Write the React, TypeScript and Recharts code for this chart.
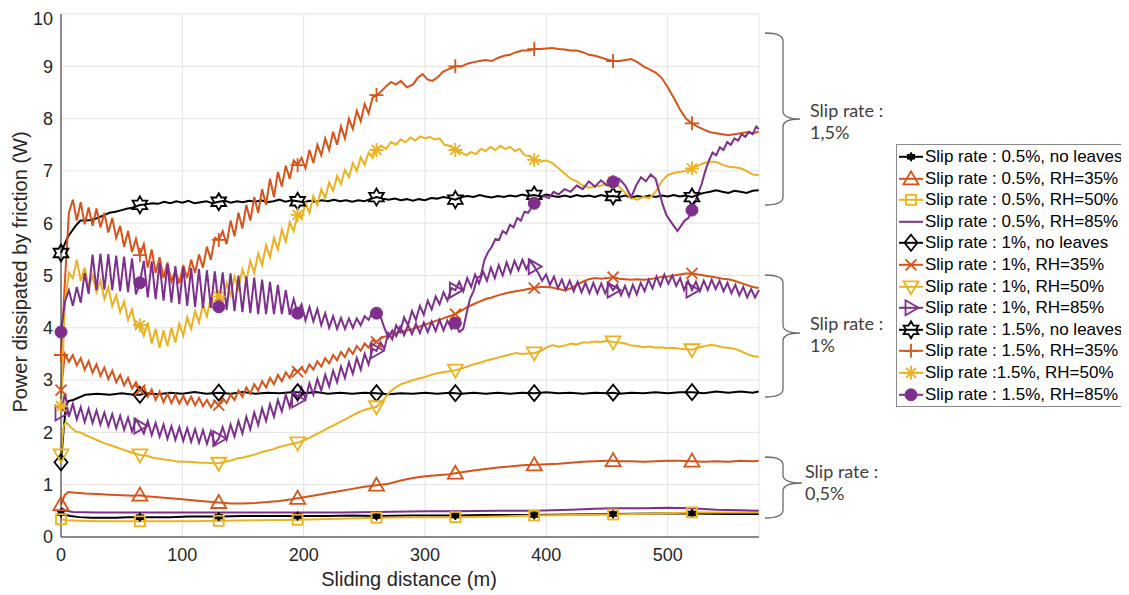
import React from 'react';
import { LineChart, Line, XAxis, YAxis, CartesianGrid } from 'recharts';

// ---------- axis / category data ----------
const STEP = 3.25; // sampling step (m) of the densely read segments
const MARKER_X = [0, 65, 130, 195, 260, 325, 390, 455, 520];
const X_TICKS = [0, 100, 200, 300, 400, 500];
const Y_TICKS = [0, 1, 2, 3, 4, 5, 6, 7, 8, 9, 10];
const X_MAX = 575.25;

const COLORS = { black: '#000000', orange: '#D95319', yellow: '#EDB120', purple: '#7E2F8E' };

// ---------- series values ----------
// Slip 0.5 %
const B05 = [[0,0.46],[4,0.42],[8,0.4],[15,0.38],[25,0.37],[35,0.37],[45,0.37],[55,0.38],[65,0.38],[75,0.38],[90,0.38],[105,0.39],[120,0.39],[130,0.39],[150,0.4],[170,0.4],[195,0.4],[220,0.4],[240,0.41],[260,0.4],[290,0.41],[325,0.41],[350,0.42],[390,0.42],[420,0.43],[455,0.44],[490,0.45],[520,0.45],[550,0.44],[575,0.44]];
const O05 = [[0,0.62],[3,0.8],[6,0.86],[10,0.85],[15,0.84],[20,0.83],[30,0.82],[40,0.81],[50,0.8],[60,0.79],[65,0.8],[70,0.78],[80,0.76],[90,0.74],[100,0.72],[110,0.7],[120,0.68],[130,0.66],[140,0.64],[150,0.64],[160,0.65],[170,0.67],[180,0.69],[190,0.72],[195,0.74],[200,0.76],[210,0.8],[220,0.84],[230,0.88],[240,0.92],[250,0.96],[260,0.99],[270,1.02],[280,1.08],[290,1.13],[300,1.16],[310,1.18],[320,1.2],[325,1.22],[330,1.24],[340,1.27],[350,1.3],[360,1.33],[370,1.35],[380,1.37],[390,1.38],[400,1.39],[410,1.4],[420,1.42],[430,1.44],[440,1.45],[450,1.46],[455,1.46],[460,1.45],[470,1.45],[480,1.44],[490,1.45],[500,1.46],[510,1.46],[520,1.45],[530,1.44],[540,1.45],[550,1.44],[560,1.46],[570,1.45],[575,1.46]];
const Y05 = [[0,0.34],[5,0.32],[15,0.31],[30,0.3],[50,0.3],[65,0.3],[90,0.3],[110,0.3],[130,0.31],[160,0.32],[195,0.33],[230,0.35],[260,0.37],[290,0.38],[325,0.38],[360,0.39],[390,0.41],[420,0.42],[455,0.43],[490,0.45],[520,0.47],[550,0.47],[575,0.47]];
const P05 = [[0,0.56],[4,0.5],[10,0.48],[30,0.47],[65,0.47],[100,0.47],[130,0.47],[160,0.47],[195,0.47],[230,0.47],[260,0.48],[300,0.49],[325,0.49],[360,0.5],[390,0.5],[420,0.52],[440,0.54],[455,0.55],[480,0.55],[500,0.56],[520,0.55],[540,0.52],[560,0.51],[575,0.5]];

// Slip 1 %
const B10 = [[0,1.43],[2,2.0],[4,2.5],[6,2.6],[10,2.62],[20,2.72],[30,2.74],[40,2.72],[50,2.75],[60,2.72],[65,2.72],[70,2.75],[80,2.73],[90,2.76],[100,2.74],[110,2.77],[120,2.74],[130,2.76],[140,2.74],[150,2.77],[160,2.74],[170,2.76],[180,2.75],[190,2.77],[195,2.77],[200,2.75],[210,2.77],[220,2.74],[230,2.76],[240,2.74],[250,2.76],[260,2.75],[270,2.73],[280,2.75],[290,2.74],[300,2.76],[310,2.74],[320,2.76],[325,2.75],[330,2.74],[340,2.76],[350,2.74],[360,2.76],[370,2.74],[380,2.76],[390,2.75],[400,2.77],[410,2.75],[420,2.76],[430,2.74],[440,2.76],[450,2.75],[455,2.76],[460,2.74],[470,2.76],[480,2.75],[490,2.77],[500,2.75],[510,2.77],[520,2.77],[530,2.75],[540,2.78],[550,2.76],[560,2.78],[570,2.76],[575,2.78]];
const O10_GRID = [2.81,3.5,3.35,3.48,3.28,3.42,3.2,3.36,3.14,3.3,3.08,3.24,3.02,3.18,2.96,3.1,2.9,3.04,2.84,2.96,2.81,2.88,2.68,2.82,2.62,2.78,2.58,2.74,2.56,2.72,2.55,2.7,2.54,2.68,2.52,2.66,2.5,2.62,2.48,2.6,2.52,2.66,2.56,2.72,2.62,2.8,2.68,2.86,2.74,2.92,2.8,2.98,2.86,3.04,2.92,3.1,2.98,3.15,3.04,3.2,3.16,3.24,3.14,3.3,3.2,3.36,3.26,3.42,3.32,3.48,3.38,3.54,3.44,3.6,3.5,3.65,3.56,3.7,3.62,3.76,3.73];
const O10_TAIL = [[265,3.82],[270,3.85],[275,3.9],[280,3.92],[285,3.95],[290,3.98],[295,4.02],[300,4.06],[305,4.1],[310,4.14],[315,4.18],[320,4.22],[325,4.26],[330,4.33],[335,4.4],[340,4.45],[345,4.5],[350,4.55],[355,4.58],[360,4.62],[365,4.65],[370,4.68],[375,4.7],[380,4.72],[385,4.74],[390,4.76],[395,4.78],[400,4.78],[405,4.77],[410,4.74],[415,4.72],[420,4.75],[425,4.82],[430,4.88],[435,4.93],[440,4.95],[445,4.94],[450,4.95],[455,4.97],[460,4.94],[465,4.93],[470,4.92],[475,4.93],[480,4.92],[485,4.93],[490,4.95],[495,4.97],[500,4.98],[505,5.0],[510,5.02],[515,5.04],[520,5.04],[525,5.02],[530,5.0],[535,4.98],[540,4.96],[545,4.94],[550,4.93],[555,4.9],[560,4.86],[565,4.82],[570,4.78],[575,4.76]];
const Y10 = [[0,1.57],[2,2.1],[4,2.2],[8,2.1],[12,2.02],[16,2.0],[20,1.95],[25,1.9],[30,1.85],[35,1.8],[40,1.76],[45,1.72],[50,1.68],[55,1.64],[60,1.6],[65,1.57],[70,1.56],[75,1.52],[80,1.5],[85,1.48],[90,1.47],[95,1.45],[100,1.44],[105,1.44],[110,1.43],[115,1.42],[120,1.42],[125,1.41],[130,1.41],[135,1.44],[140,1.46],[145,1.5],[150,1.52],[155,1.55],[160,1.58],[165,1.62],[170,1.65],[175,1.68],[180,1.72],[185,1.75],[190,1.78],[195,1.8],[200,1.85],[205,1.9],[210,1.96],[215,2.02],[220,2.08],[225,2.14],[230,2.2],[235,2.26],[240,2.32],[245,2.38],[250,2.43],[255,2.46],[260,2.49],[265,2.6],[270,2.75],[275,2.85],[280,2.92],[285,2.96],[290,3.0],[295,3.03],[300,3.06],[305,3.1],[310,3.13],[315,3.15],[320,3.17],[325,3.19],[330,3.22],[335,3.26],[340,3.3],[345,3.33],[350,3.37],[355,3.4],[360,3.43],[365,3.46],[370,3.49],[375,3.52],[380,3.5],[385,3.51],[390,3.52],[395,3.55],[400,3.62],[405,3.67],[410,3.64],[415,3.66],[420,3.7],[425,3.68],[430,3.72],[435,3.72],[440,3.74],[445,3.73],[450,3.75],[455,3.73],[460,3.72],[465,3.7],[470,3.66],[475,3.65],[480,3.63],[485,3.64],[490,3.62],[495,3.63],[500,3.61],[505,3.62],[510,3.6],[515,3.59],[520,3.58],[525,3.62],[530,3.65],[535,3.67],[540,3.66],[545,3.63],[550,3.62],[555,3.6],[560,3.56],[565,3.5],[570,3.46],[575,3.44]];
const P10_GRID = [2.37,2.75,2.3,2.55,2.25,2.48,2.2,2.45,2.18,2.42,2.15,2.38,2.12,2.35,2.08,2.32,2.05,2.28,2.02,2.25,2.12,1.98,2.22,1.95,2.18,1.92,2.15,1.88,2.12,1.86,2.1,1.84,2.08,1.82,2.06,1.8,2.04,1.78,2.02,1.78,1.88,2.1,1.86,2.15,1.92,2.22,1.98,2.3,2.06,2.38,2.14,2.46,2.22,2.54,2.3,2.62,2.4,2.72,2.48,2.8,2.62,2.86,2.64,2.94,2.72,3.02,2.8,3.1,2.88,3.18,2.96,3.26,3.04,3.34,3.12,3.42,3.2,3.5,3.3,3.6,3.56,3.72,3.6,3.9,3.78,4.05,3.92,4.2,4.05,4.32,4.15,4.42,4.25,4.52,4.35,4.6,4.45,4.68,4.52,4.76,4.72,4.88,4.7,4.95,4.78,5.02,4.85,5.08,4.9,5.15,4.95,5.2,5.0,5.25,5.05,5.28,5.1,5.3,5.12,5.28,5.17,5.05,4.9,5.02,4.82,4.98,4.76,4.92,4.72,4.9,4.7,4.88,4.68,4.86,4.66,4.86,4.66,4.85,4.66,4.84,4.72,4.82,4.62,4.8,4.6,4.82,4.64,4.86,4.7,4.92,4.75,4.98,4.8,5.02,4.84,5.0,4.8,4.95,4.72,4.9,4.72,4.88,4.7,4.9,4.72,4.92,4.74,4.9,4.7,4.86,4.66,4.82,4.62,4.78,4.58,4.74,4.58,4.72];

// Slip 1.5 %
const B15 = [[0,5.43],[3,5.6],[6,5.75],[9,5.85],[12,5.95],[16,6.05],[20,6.05],[25,6.06],[30,6.1],[35,6.15],[40,6.2],[45,6.22],[50,6.25],[55,6.28],[60,6.3],[65,6.35],[70,6.36],[75,6.38],[80,6.37],[85,6.41],[90,6.38],[95,6.42],[100,6.39],[105,6.43],[110,6.38],[115,6.4],[120,6.42],[125,6.38],[130,6.41],[135,6.43],[140,6.39],[145,6.42],[150,6.4],[155,6.43],[160,6.41],[165,6.44],[170,6.4],[175,6.42],[180,6.45],[185,6.41],[190,6.44],[195,6.42],[200,6.4],[205,6.43],[210,6.41],[215,6.44],[220,6.42],[225,6.45],[230,6.42],[235,6.44],[240,6.41],[245,6.44],[250,6.42],[255,6.46],[260,6.5],[265,6.47],[270,6.45],[275,6.47],[280,6.44],[285,6.46],[290,6.43],[295,6.46],[300,6.44],[305,6.48],[310,6.47],[315,6.5],[320,6.48],[325,6.45],[330,6.5],[335,6.52],[340,6.5],[345,6.54],[350,6.51],[355,6.49],[360,6.52],[365,6.5],[370,6.53],[375,6.51],[380,6.55],[385,6.52],[390,6.54],[395,6.51],[400,6.55],[405,6.52],[410,6.5],[415,6.53],[420,6.5],[425,6.54],[430,6.51],[435,6.53],[440,6.5],[445,6.54],[450,6.51],[455,6.52],[460,6.5],[465,6.53],[470,6.49],[475,6.52],[480,6.5],[485,6.53],[490,6.5],[495,6.53],[500,6.51],[505,6.54],[510,6.51],[515,6.53],[520,6.5],[525,6.55],[530,6.58],[535,6.6],[540,6.63],[545,6.6],[550,6.58],[555,6.62],[560,6.6],[565,6.58],[570,6.62],[575,6.63]];
const O15_GRID = [3.48,4.9,6.2,6.45,6.05,6.4,5.98,6.3,5.95,6.28,5.92,6.2,5.82,6.1,5.72,5.95,5.55,5.85,5.45,5.7,5.39,5.6,5.15,5.5,5.05,5.35,4.95,5.25,4.88,5.1,4.85,5.2,4.95,5.3,5.05,5.4,5.15,5.55,5.3,5.72,5.68,5.85,5.6,6.05,5.75,6.2,5.9,6.35,6.05,6.5,6.2,6.65,6.35,6.85,6.5,6.98,6.7,7.1,6.85,7.2,7.11,7.25,7.05,7.4,7.15,7.5,7.3,7.62,7.4,7.75,7.5,7.85,7.62,8.0,7.8,8.15,7.95,8.28,8.1,8.4,8.45];
const O15_TAIL = [[263,8.5],[268,8.62],[272,8.7],[276,8.65],[280,8.72],[285,8.6],[290,8.65],[294,8.78],[298,8.85],[302,8.75],[306,8.72],[310,8.78],[315,8.9],[320,8.95],[325,9.0],[330,9.0],[335,9.05],[340,9.08],[345,9.1],[350,9.12],[355,9.1],[360,9.16],[365,9.2],[370,9.22],[375,9.27],[380,9.3],[385,9.3],[390,9.33],[395,9.33],[400,9.34],[405,9.35],[410,9.33],[415,9.32],[420,9.3],[425,9.3],[430,9.27],[435,9.22],[440,9.2],[445,9.17],[450,9.13],[455,9.1],[460,9.1],[465,9.12],[470,9.14],[475,9.08],[480,9.0],[485,8.94],[490,8.88],[495,8.78],[500,8.6],[505,8.4],[510,8.18],[515,8.0],[520,7.91],[525,7.84],[530,7.79],[535,7.74],[540,7.72],[545,7.7],[550,7.68],[555,7.7],[560,7.72],[565,7.74],[570,7.72],[575,7.75]];
const Y15_GRID = [2.5,4.5,5.05,4.95,5.3,4.9,5.15,4.78,5.0,4.68,4.9,4.55,4.78,4.42,4.62,4.3,4.5,4.15,4.35,4.0,4.05,3.85,4.1,3.7,3.98,3.62,3.95,3.65,4.0,3.72,4.08,3.85,4.2,3.98,4.32,4.1,4.45,4.22,4.58,4.38,4.6,4.5,4.85,4.62,4.98,4.75,5.12,4.9,5.28,5.05,5.42,5.2,5.58,5.35,5.72,5.5,5.88,5.65,6.02,5.85,6.16,6.1,6.38,6.2,6.52,6.35,6.65,6.48,6.78,6.62,6.9,6.75,7.02,6.88,7.15,7.0,7.26,7.12,7.35,7.25,7.4];
const Y15_TAIL = [[264,7.48],[268,7.42],[272,7.55],[276,7.5],[280,7.6],[284,7.55],[288,7.64],[292,7.58],[296,7.66],[300,7.62],[304,7.65],[308,7.6],[312,7.62],[316,7.5],[320,7.48],[325,7.4],[330,7.35],[334,7.3],[338,7.36],[342,7.32],[346,7.42],[350,7.38],[354,7.46],[358,7.4],[362,7.48],[366,7.42],[370,7.46],[374,7.38],[378,7.42],[382,7.3],[386,7.28],[390,7.21],[395,7.18],[400,7.2],[405,7.15],[410,7.05],[415,6.95],[420,6.85],[425,6.8],[430,6.72],[435,6.68],[440,6.7],[445,6.72],[450,6.75],[455,6.79],[460,6.7],[465,6.58],[470,6.48],[475,6.45],[480,6.5],[485,6.48],[490,6.6],[495,6.8],[500,6.92],[505,6.96],[510,6.98],[515,7.0],[520,7.05],[525,7.1],[530,7.15],[535,7.18],[540,7.17],[545,7.12],[550,7.08],[555,7.07],[560,7.05],[565,7.0],[570,6.93],[575,6.92]];
const P15_GRID = [3.92,4.5,4.72,4.42,4.78,4.48,5.05,4.65,5.4,4.72,5.42,4.73,5.41,4.72,5.38,4.7,5.36,4.68,5.33,4.64,4.86,5.28,4.58,5.27,4.55,5.24,4.52,5.22,4.48,5.18,4.45,5.16,4.42,5.14,4.4,5.12,4.38,5.1,4.38,5.08,4.4,5.06,4.34,5.04,4.32,5.0,4.3,4.98,4.28,4.96,4.26,4.92,4.26,4.88,4.26,4.82,4.26,4.72,4.25,4.55,4.28,4.45,4.14,4.4,4.12,4.36,4.05,4.28,4.0,4.22,3.98,4.19,3.98,4.18,4.0,4.18,4.05,4.22,4.15,4.3,4.28,4.22,4.0,3.82,3.95,3.84,4.02,3.86,4.05,3.88,4.08,3.9,4.1,3.92,4.12,3.94,4.15,3.95,4.14,3.98,4.09];
const P15_TAIL = [[328.25,3.92],[331.5,3.98],[334,4.25],[337,4.55],[340,4.7],[343,4.95],[346,5.0],[349,5.3],[352,5.45],[355,5.55],[358,5.7],[361,5.68],[364,5.85],[367,5.8],[370,5.97],[373,5.92],[376,6.1],[379,6.05],[382,6.22],[385,6.2],[390,6.38],[394,6.45],[398,6.52],[402,6.48],[406,6.6],[410,6.55],[415,6.65],[420,6.6],[425,6.72],[430,6.65],[435,6.8],[440,6.7],[445,6.82],[450,6.72],[455,6.79],[460,6.85],[465,6.72],[470,6.5],[474,6.72],[478,6.88],[482,6.8],[486,6.93],[490,6.85],[493,6.6],[496,6.35],[499,6.15],[502,6.05],[505,5.95],[508,5.85],[511,5.95],[514,6.05],[517,6.1],[520,6.25],[524,6.5],[528,6.75],[531,7.0],[534,7.2],[537,7.35],[540,7.3],[543,7.45],[546,7.4],[549,7.55],[552,7.5],[555,7.62],[558,7.58],[561,7.7],[564,7.65],[567,7.75],[570,7.7],[573,7.85],[575,7.8]];

// ---------- helpers ----------
type Pt = { x: number; y: number };
const fromPairs = (p: number[][]): Pt[] => p.map(([x, y]) => ({ x, y }));
const fromGrid = (v: number[]): Pt[] => v.map((y, i) => ({ x: i * STEP, y }));

const SERIES = [
  { name: 'Slip rate : 0.5%, no leaves', color: COLORS.black, shape: 'hexSmall', data: fromPairs(B05) },
  { name: 'Slip rate : 0.5%, RH=35%', color: COLORS.orange, shape: 'triUp', data: fromPairs(O05) },
  { name: 'Slip rate : 0.5%, RH=50%', color: COLORS.yellow, shape: 'square', data: fromPairs(Y05) },
  { name: 'Slip rate : 0.5%, RH=85%', color: COLORS.purple, shape: 'none', data: fromPairs(P05) },
  { name: 'Slip rate : 1%, no leaves', color: COLORS.black, shape: 'diamond', data: fromPairs(B10) },
  { name: 'Slip rate : 1%, RH=35%', color: COLORS.orange, shape: 'x', data: fromGrid(O10_GRID).concat(fromPairs(O10_TAIL)) },
  { name: 'Slip rate : 1%, RH=50%', color: COLORS.yellow, shape: 'triDown', data: fromPairs(Y10) },
  { name: 'Slip rate : 1%, RH=85%', color: COLORS.purple, shape: 'triRight', data: fromGrid(P10_GRID) },
  { name: 'Slip rate : 1.5%, no leaves', color: COLORS.black, shape: 'hexagram', data: fromPairs(B15) },
  { name: 'Slip rate : 1.5%, RH=35%', color: COLORS.orange, shape: 'plus', data: fromGrid(O15_GRID).concat(fromPairs(O15_TAIL)) },
  { name: 'Slip rate :1.5%, RH=50%', color: COLORS.yellow, shape: 'asterisk', data: fromGrid(Y15_GRID).concat(fromPairs(Y15_TAIL)) },
  { name: 'Slip rate : 1.5%, RH=85%', color: COLORS.purple, shape: 'circle', data: fromGrid(P15_GRID).concat(fromPairs(P15_TAIL)) },
];

const starPoints = (cx: number, cy: number, r: number) => {
  const pts: string[] = [];
  for (let k = 0; k < 12; k++) {
    const a = (-90 + k * 30) * Math.PI / 180;
    const rr = k % 2 === 0 ? r : r / Math.sqrt(3);
    pts.push(`${cx + rr * Math.cos(a)},${cy + rr * Math.sin(a)}`);
  }
  return pts.join(' ');
};

function Marker({ shape, cx, cy, color }: { shape: string; cx: number; cy: number; color: string }) {
  const sw = 1.8;
  switch (shape) {
    case 'triUp':
      return <polygon points={`${cx},${cy - 7.5} ${cx - 7.5},${cy + 5.5} ${cx + 7.5},${cy + 5.5}`} fill="none" stroke={color} strokeWidth={sw} />;
    case 'triDown':
      return <polygon points={`${cx},${cy + 7.5} ${cx - 7.5},${cy - 5.5} ${cx + 7.5},${cy - 5.5}`} fill="none" stroke={color} strokeWidth={sw} />;
    case 'triRight':
      return <polygon points={`${cx + 7.5},${cy} ${cx - 5.5},${cy - 7.5} ${cx - 5.5},${cy + 7.5}`} fill="none" stroke={color} strokeWidth={sw} />;
    case 'square':
      return <rect x={cx - 5} y={cy - 5} width={10} height={10} fill="none" stroke={color} strokeWidth={sw} />;
    case 'diamond':
      return <polygon points={`${cx},${cy - 8} ${cx + 6.5},${cy} ${cx},${cy + 8} ${cx - 6.5},${cy}`} fill="none" stroke={color} strokeWidth={sw} />;
    case 'x':
      return <path d={`M${cx - 5.5},${cy - 5.5}L${cx + 5.5},${cy + 5.5}M${cx - 5.5},${cy + 5.5}L${cx + 5.5},${cy - 5.5}`} stroke={color} strokeWidth={sw} fill="none" />;
    case 'plus':
      return <path d={`M${cx - 7},${cy}L${cx + 7},${cy}M${cx},${cy - 7}L${cx},${cy + 7}`} stroke={color} strokeWidth={sw} fill="none" />;
    case 'asterisk':
      return <path d={`M${cx - 7},${cy}L${cx + 7},${cy}M${cx},${cy - 7}L${cx},${cy + 7}M${cx - 5},${cy - 5}L${cx + 5},${cy + 5}M${cx - 5},${cy + 5}L${cx + 5},${cy - 5}`} stroke={color} strokeWidth={sw} fill="none" />;
    case 'circle':
      return <circle cx={cx} cy={cy} r={6} fill={color} stroke={color} strokeWidth={1} />;
    case 'hexagram':
      return <polygon points={starPoints(cx, cy, 8.5)} fill="none" stroke={color} strokeWidth={sw} />;
    case 'hexSmall':
      return <polygon points={starPoints(cx, cy, 4.5)} fill={color} stroke={color} strokeWidth={1} />;
    default:
      return null;
  }
}

const isMarkerX = (x: number) => MARKER_X.some((m) => Math.abs(m - x) < 0.01);

const makeDot = (shape: string, color: string) => (props: any) => {
  const { cx, cy, payload, index } = props;
  if (shape === 'none' || !payload || !isMarkerX(payload.x) || cx == null || cy == null) {
    return <g key={`e${index}`} />;
  }
  return (
    <g key={`m${index}`}>
      <Marker shape={shape} cx={cx} cy={cy} color={color} />
    </g>
  );
};

function Bracket({ x0, x1, x2, top, mid, bot }: { x0: number; x1: number; x2: number; top: number; mid: number; bot: number }) {
  const r = 8;
  const d = `M${x0},${top} Q${x1},${top} ${x1},${top + r} L${x1},${mid - r} Q${x1},${mid} ${x2},${mid} Q${x1},${mid} ${x1},${mid + r} L${x1},${bot - r} Q${x1},${bot} ${x0},${bot}`;
  return <path d={d} fill="none" stroke="#6b6b6b" strokeWidth={1.3} />;
}

const FONT = '"Liberation Sans", Arial, Helvetica, sans-serif';
const NOTE_FONT = 'Lato, "Open Sans", sans-serif';

export default function App() {
  return (
    <div style={{ position: 'relative', width: 1121, height: 585, background: '#fff' }}>
      <LineChart width={1121} height={585} margin={{ top: 6, right: 370, bottom: 4, left: 0 }}>
        <CartesianGrid stroke="#e3e3e3" strokeWidth={1} />
        <XAxis
          type="number"
          dataKey="x"
          domain={[0, X_MAX]}
          ticks={X_TICKS}
          height={52}
          tickLine={false}
          tickSize={0}
          tickMargin={11}
          axisLine={{ stroke: '#262626' }}
          tick={{ fill: '#262626', fontSize: 18, fontFamily: FONT }}
        />
        <YAxis
          type="number"
          domain={[0, 10]}
          ticks={Y_TICKS}
          width={53}
          tickLine={false}
          tickSize={0}
          tickMargin={8}
          axisLine={{ stroke: '#262626' }}
          tick={{ fill: '#262626', fontSize: 18, fontFamily: FONT }}
        />
        {SERIES.map((s) => (
          <Line
            key={s.name}
            data={s.data}
            dataKey="y"
            name={s.name}
            type="linear"
            stroke={s.color}
            strokeWidth={2}
            dot={makeDot(s.shape, s.color)}
            activeDot={false}
            isAnimationActive={false}
            legendType="none"
          />
        ))}
      </LineChart>

      <svg width={1121} height={585} style={{ position: 'absolute', left: 0, top: 0, pointerEvents: 'none', overflow: 'visible' }}>
        <text x={12} y={264} transform="rotate(-90 12 264)" textAnchor="middle" dominantBaseline="central" fontSize={20} fontFamily={FONT} fill="#262626">
          Power dissipated by friction (W)
        </text>
        <text x={401} y={571} textAnchor="middle" dominantBaseline="central" fontSize={20} fontFamily={FONT} fill="#262626">
          Sliding distance (m)
        </text>

        <Bracket x0={757} x1={775} x2={792} top={25} mid={111} bot={197} />
        <Bracket x0={757} x1={775} x2={792} top={267} mid={325} bot={389} />
        <Bracket x0={757} x1={775} x2={794} top={449} mid={475} bot={510} />

        <text x={802} y={102} dominantBaseline="central" fontSize={18} fontFamily={NOTE_FONT} fill="#404040">Slip rate :</text>
        <text x={802} y={124} dominantBaseline="central" fontSize={18} fontFamily={NOTE_FONT} fill="#404040">1,5%</text>
        <text x={802} y={315} dominantBaseline="central" fontSize={18} fontFamily={NOTE_FONT} fill="#404040">Slip rate :</text>
        <text x={802} y={337} dominantBaseline="central" fontSize={18} fontFamily={NOTE_FONT} fill="#404040">1%</text>
        <text x={797} y={463} dominantBaseline="central" fontSize={18} fontFamily={NOTE_FONT} fill="#404040">Slip rate :</text>
        <text x={797} y={485} dominantBaseline="central" fontSize={18} fontFamily={NOTE_FONT} fill="#404040">0,5%</text>
      </svg>

      <div
        style={{
          position: 'absolute',
          left: 888,
          top: 136,
          width: 229,
          border: '1px solid #8a8a8a',
          background: '#fff',
          paddingTop: 1,
          paddingBottom: 1,
          fontFamily: FONT,
          fontSize: 17,
          color: '#000',
        }}
      >
        {SERIES.map((s) => (
          <div key={s.name} style={{ display: 'flex', alignItems: 'center', height: 21.6, whiteSpace: 'nowrap' }}>
            <svg width={28} height={21.6} style={{ flex: '0 0 28px' }}>
              <line x1={2} y1={10.8} x2={26} y2={10.8} stroke={s.color} strokeWidth={2} />
              <Marker shape={s.shape} cx={14} cy={10.8} color={s.color} />
            </svg>
            <span style={{ lineHeight: '21.6px' }}>{s.name}</span>
          </div>
        ))}
      </div>
    </div>
  );
}
